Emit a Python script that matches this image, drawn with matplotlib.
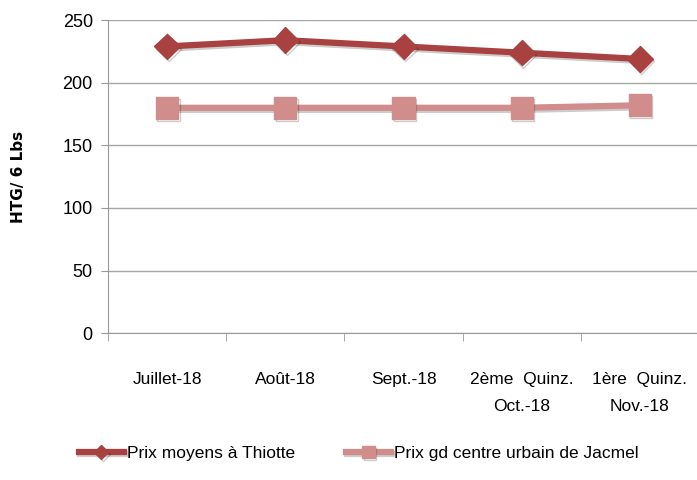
import matplotlib

matplotlib.use("Agg")
import matplotlib.pyplot as plt
import matplotlib.patheffects as pe
import numpy as np

# series (HTG per 6 lbs)
categories = ["Juillet-18", "Août-18", "Sept.-18", "2ème  Quinz.\nOct.-18", "1ère  Quinz.\nNov.-18"]
thiotte = [229, 234, 229, 224, 219]
jacmel = [180, 180, 180, 180, 182]
series_labels = ["Prix moyens à Thiotte", "Prix gd centre urbain de Jacmel"]
y_ticks = [0, 50, 100, 150, 200, 250]

DARK = "#A8413F"
PINK = "#D18D8B"

plt.rcParams["font.family"] = ["Liberation Sans", "DejaVu Sans"]

fig = plt.figure(figsize=(6.97, 4.8), dpi=100)
ax = fig.add_axes([0.155, 0.306, 0.848, 0.652])

x = np.arange(len(categories))
shadow = [pe.SimpleLineShadow(offset=(1, -1.5), alpha=0.2), pe.Normal()]
ax.plot(x, thiotte, color=DARK, lw=4.5, marker="D", ms=13, label=series_labels[0],
        path_effects=shadow, zorder=3)
ax.plot(x, jacmel, color=PINK, lw=4.5, marker="s", ms=16, label=series_labels[1],
        path_effects=shadow, zorder=3)

ax.set_xlim(-0.5, len(categories) - 0.5)
ax.set_ylim(0, 250)
ax.set_yticks(y_ticks)
ax.set_xticks(x)
ax.set_xticklabels(categories, fontsize=12.5, linespacing=2.0)
ax.set_xticks(np.arange(-0.5, len(categories)), minor=True)
ax.tick_params(axis="x", which="major", length=0, pad=28)
ax.tick_params(axis="x", which="minor", length=6, color="#999999")
ax.tick_params(axis="y", labelsize=13, length=5, color="#999999", pad=6)
ax.grid(axis="y", color="#A6A6A6", lw=1)
ax.set_axisbelow(True)
for side in ("top", "right"):
    ax.spines[side].set_visible(False)
for side in ("left", "bottom"):
    ax.spines[side].set_color("#999999")

ax.set_ylabel("HTG/ 6 Lbs", fontsize=11, fontweight="bold", family="DejaVu Sans")
ax.yaxis.set_label_coords(-0.138, 0.5)

fig.legend(loc="center", bbox_to_anchor=(0.515, 0.056), ncol=2, frameon=False,
           fontsize=12.5, handlelength=2.6, columnspacing=2.9, handletextpad=0.2, markerscale=0.55)

fig.savefig("out.png", dpi=100)
